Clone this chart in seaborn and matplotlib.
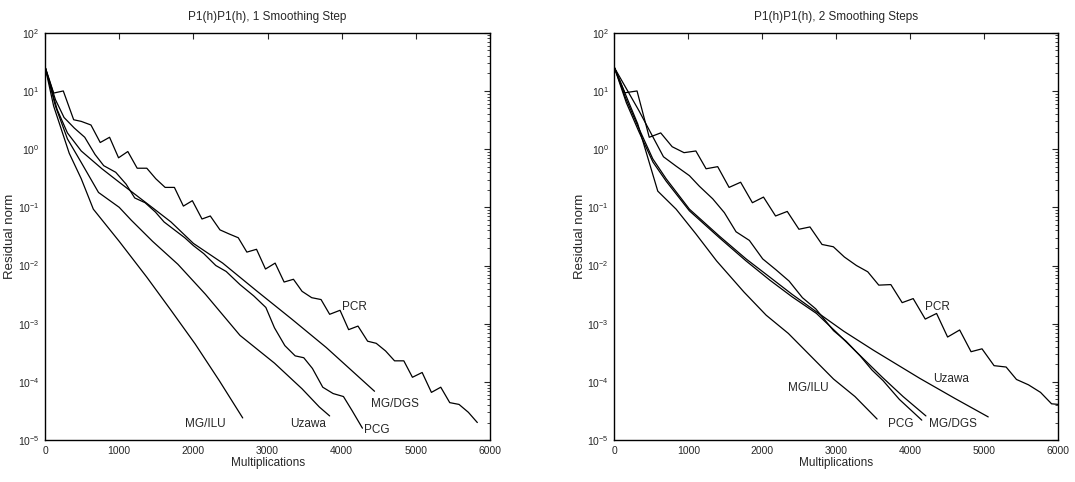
import matplotlib
matplotlib.use("Agg")
import matplotlib.pyplot as plt
from matplotlib.ticker import NullFormatter, LogLocator, FixedLocator
import seaborn as sns
import pandas as pd

# panel 1: 1 smoothing step
pcr1_x = [0, 116, 246, 386, 488, 619, 744, 870, 991, 1116, 1242, 1372, 1493, 1619, 1744, 1865,
          1986, 2116, 2228, 2358, 2479, 2605, 2721, 2851, 2972, 3102, 3223, 3349, 3465, 3595,
          3721, 3837, 3977, 4093, 4219, 4349, 4465, 4591, 4712, 4837, 4953, 5084, 5209, 5335,
          5456, 5581, 5707, 5828]
pcr1_y = [26, 9.2, 10, 3.2, 3.0, 2.6, 1.3, 1.6, 0.71, 0.91, 0.47, 0.47, 0.31, 0.22, 0.22, 0.105,
          0.13, 0.063, 0.071, 0.041, 0.035, 0.030, 0.017, 0.019, 0.0087, 0.011, 0.0052, 0.0058,
          0.0036, 0.0028, 0.0026, 0.00145, 0.0017, 0.00079, 0.00091, 0.0005, 0.00046, 0.00034,
          0.00023, 0.00023, 0.00012, 0.000145, 6.6e-5, 8.1e-5, 4.4e-5, 4.1e-5, 3.0e-5, 2.0e-5]
dgs1_x = [0, 163, 302, 488, 767, 1000, 1233, 1465, 1698, 2000, 2395, 2860, 3326, 3791, 4442]
dgs1_y = [26, 4.8, 1.9, 0.93, 0.46, 0.27, 0.16, 0.095, 0.056, 0.024, 0.011, 0.0036, 0.0012,
          0.00039, 6.9e-5]
pcg1_x = [0, 140, 256, 395, 535, 674, 791, 953, 1093, 1209, 1349, 1488, 1605, 1744, 1884, 2000,
          2140, 2302, 2442, 2628, 2814, 2977, 3093, 3233, 3372, 3488, 3605, 3744, 3884, 4023,
          4140, 4279]
pcg1_y = [26, 7.1, 3.5, 2.3, 1.6, 0.81, 0.52, 0.40, 0.25, 0.145, 0.12, 0.083, 0.056, 0.041,
          0.030, 0.022, 0.016, 0.010, 0.0079, 0.0047, 0.0030, 0.0019, 0.00085, 0.00042, 0.00028,
          0.00026, 0.00017, 8.1e-5, 6.3e-5, 5.6e-5, 3.2e-5, 1.6e-5]
uza1_x = [0, 140, 302, 488, 721, 1000, 1163, 1450, 1791, 2163, 2628, 3093, 3465, 3698, 3837]
uza1_y = [26, 5.5, 1.5, 0.59, 0.18, 0.10, 0.060, 0.026, 0.0105, 0.0032, 0.00063, 0.00021,
          7.6e-5, 3.7e-5, 2.6e-5]
ilu1_x = [0, 116, 326, 488, 651, 1000, 1372, 1698, 2023, 2349, 2665]
ilu1_y = [26, 5.5, 0.85, 0.31, 0.093, 0.026, 0.0063, 0.0017, 0.00045, 0.000105, 2.4e-5]

# panel 2: 2 smoothing steps
pcr2_x = [0, 140, 305, 470, 625, 780, 940, 1100, 1238, 1395, 1549, 1705, 1864, 2014, 2177, 2335,
          2493, 2642, 2805, 2958, 3107, 3270, 3423, 3572, 3735, 3888, 4037, 4200, 4353, 4502,
          4665, 4819, 4967, 5130, 5293, 5433, 5595, 5758, 5907, 6000]
pcr2_y = [25, 9.3, 10, 1.6, 1.9, 1.1, 0.87, 0.93, 0.46, 0.50, 0.22, 0.27, 0.12, 0.15, 0.071,
          0.085, 0.042, 0.046, 0.023, 0.021, 0.014, 0.010, 0.0078, 0.0046, 0.0047, 0.0023, 0.0027,
          0.0012, 0.0015, 0.00059, 0.00078, 0.00033, 0.00037, 0.00019, 0.00018, 0.00011, 8.9e-5,
          6.6e-5, 4.2e-5, 4.1e-5]
pcg2_x = [0, 330, 662, 833, 1013, 1148, 1328, 1485, 1643, 1823, 2003, 2180, 2360, 2540, 2720,
          2960, 3130, 3320, 3480, 3630, 3850, 4153]
pcg2_y = [25, 4.6, 0.74, 0.51, 0.35, 0.23, 0.14, 0.081, 0.038, 0.027, 0.013, 0.0085, 0.0054,
          0.0028, 0.0018, 0.00076, 0.0005, 0.00028, 0.00016, 0.000105, 5.0e-5, 2.2e-5]
uza2_x = [0, 150, 315, 518, 698, 1013, 1418, 1778, 2100, 2400, 2730, 3100, 3500, 4126, 4600, 5051]
uza2_y = [25, 7.6, 2.5, 0.68, 0.31, 0.093, 0.032, 0.013, 0.0063, 0.0032, 0.0016, 0.00074,
          0.00035, 0.000115, 5.2e-5, 2.5e-5]
dgs2_x = [0, 160, 330, 520, 700, 1013, 1418, 1778, 2100, 2400, 2730, 3000, 3300, 3620, 3900, 4209]
dgs2_y = [25, 6.3, 2.0, 0.60, 0.28, 0.087, 0.030, 0.012, 0.0056, 0.0029, 0.0015, 0.00071,
          0.0003, 0.00012, 5.6e-5, 2.6e-5]
ilu2_x = [0, 315, 585, 833, 1100, 1380, 1750, 2050, 2350, 2650, 2960, 3250, 3549]
ilu2_y = [25, 2.7, 0.19, 0.093, 0.035, 0.012, 0.0035, 0.0014, 0.00068, 0.00028, 0.000112,
          5.6e-5, 2.3e-5]

y_ticks = [1e-5, 1e-4, 1e-3, 1e-2, 1e-1, 1e0, 1e1, 1e2]
x_ticks = [0, 1000, 2000, 3000, 4000, 5000, 6000]

panels = [
    ("P1(h)P1(h), 1 Smoothing Step",
     {"PCR": (pcr1_x, pcr1_y), "MG/DGS": (dgs1_x, dgs1_y), "PCG": (pcg1_x, pcg1_y),
      "Uzawa": (uza1_x, uza1_y), "MG/ILU": (ilu1_x, ilu1_y)},
     {"PCR": (4000, 1.9e-3), "MG/DGS": (4390, 4.2e-5), "MG/ILU": (1890, 1.9e-5),
      "Uzawa": (3300, 1.9e-5), "PCG": (4300, 1.5e-5)}),
    ("P1(h)P1(h), 2 Smoothing Steps",
     {"PCR": (pcr2_x, pcr2_y), "PCG": (pcg2_x, pcg2_y), "Uzawa": (uza2_x, uza2_y),
      "MG/DGS": (dgs2_x, dgs2_y), "MG/ILU": (ilu2_x, ilu2_y)},
     {"PCR": (4200, 1.9e-3), "Uzawa": (4300, 1.12e-4), "MG/ILU": (2350, 7.9e-5),
      "PCG": (3700, 1.9e-5), "MG/DGS": (4245, 1.9e-5)}),
]

sns.set_style("white")
plt.rcParams["font.family"] = ["Liberation Sans", "DejaVu Sans"]
plt.rcParams["mathtext.fontset"] = "custom"
plt.rcParams["mathtext.rm"] = "Liberation Sans"

fig = plt.figure(figsize=(10.75, 4.82), dpi=100)
positions = [[0.0419, 0.087, 0.414, 0.845], [0.5716, 0.087, 0.413, 0.845]]

for pos, (title, series, labels) in zip(positions, panels):
    ax = fig.add_axes(pos)
    rows = []
    for name, (xs, ys) in series.items():
        for x, y in zip(xs, ys):
            rows.append({"method": name, "mult": x, "res": y})
    df = pd.DataFrame(rows)
    sns.lineplot(data=df, x="mult", y="res", units="method", estimator=None, sort=False,
                 color="black", lw=0.9, ax=ax)
    ax.set_yscale("log")
    ax.set_xlim(0, 6000)
    ax.set_ylim(1e-5, 1e2)
    ax.xaxis.set_major_locator(FixedLocator(x_ticks))
    ax.yaxis.set_major_locator(FixedLocator(y_ticks))
    ax.yaxis.set_minor_locator(LogLocator(base=10, subs=range(2, 10), numticks=20))
    ax.yaxis.set_minor_formatter(NullFormatter())
    ax.set_title(title, fontsize=8.5, pad=9)
    ax.set_xlabel("Multiplications", fontsize=8.5, labelpad=1)
    ax.set_ylabel("Residual norm", fontsize=9.5, labelpad=1)
    ax.tick_params(which="both", direction="in", top=True, right=True, labelsize=7.5, pad=4)
    ax.tick_params(which="major", length=4, width=0.8)
    ax.tick_params(which="minor", length=2, width=0.6)
    ax.tick_params(axis="x", which="minor", top=False, bottom=False)
    for s in ax.spines.values():
        s.set_color("black")
        s.set_linewidth(1.0)
    for name, (lx, ly) in labels.items():
        ax.text(lx, ly, name, fontsize=8.5, ha="left", va="center")

fig.savefig("out.png", dpi=100, facecolor="white")
